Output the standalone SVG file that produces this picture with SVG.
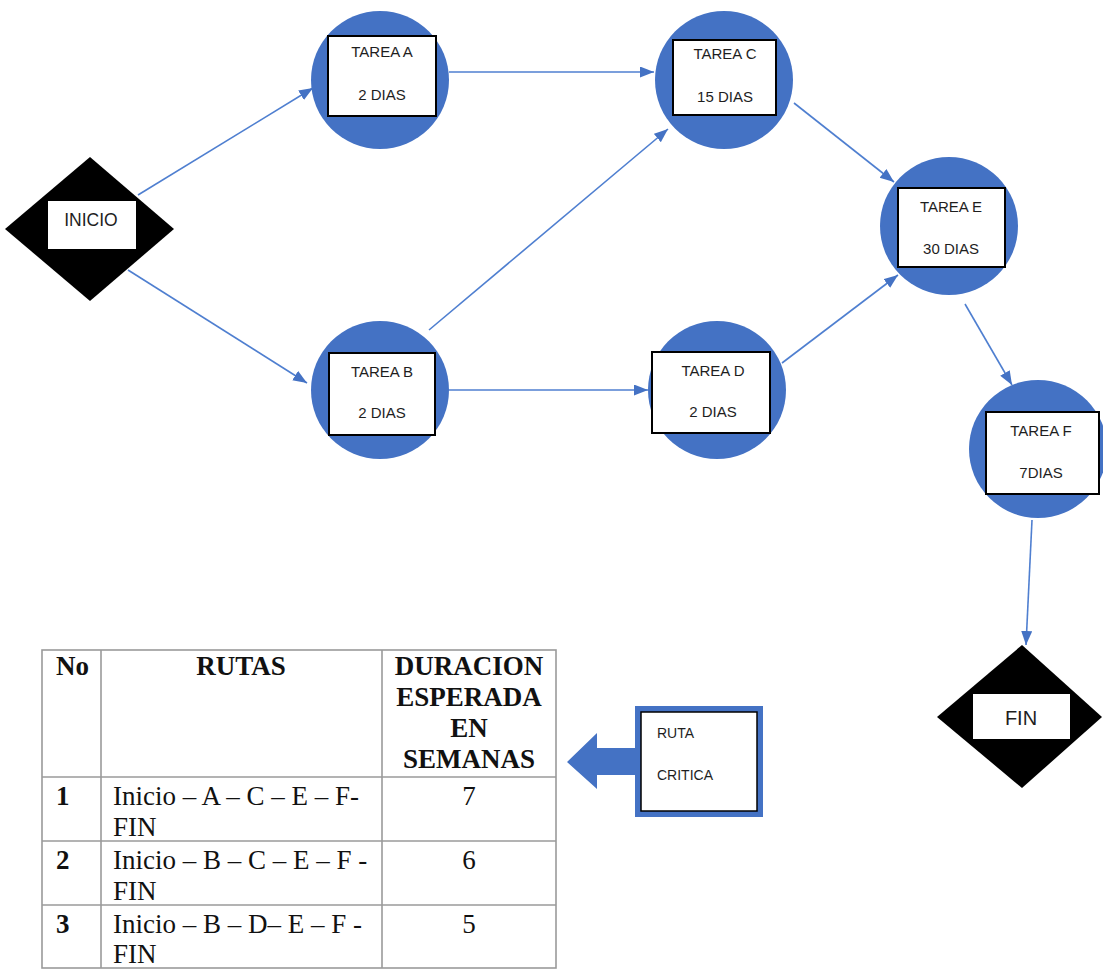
<svg xmlns="http://www.w3.org/2000/svg" width="1103" height="969" viewBox="0 0 1103 969">
  <style>
    .task { fill: #4472C4; }
    .label-box { fill: #ffffff; stroke: #000000; stroke-width: 2; }
    .node-text { font-family: "Liberation Sans", Arial, sans-serif; font-size: 15px; fill: #1e1e1e; text-anchor: middle; }
    .big { font-size: 17.5px; }
    .bigger { font-size: 20px; }
    .note { font-size: 14px; text-anchor: start; }
    .terminal { fill: #000000; }
    .edge { fill: none; stroke: #4F7FD0; stroke-width: 1.6; marker-end: url(#arrow); }
    .grid { fill: none; stroke: #9a9a9a; stroke-width: 1.6; }
    .th { font-family: "Liberation Serif", "Times New Roman", serif; font-size: 27px; font-weight: bold; fill: #111111; }
    .td { font-family: "Liberation Serif", "Times New Roman", serif; font-size: 27px; fill: #111111; }
    .mid { text-anchor: middle; }
  </style>
  <defs>
    <marker id="arrow" markerUnits="userSpaceOnUse" markerWidth="16" markerHeight="12" refX="14" refY="5.5" orient="auto">
      <path d="M0,0 L14,5.5 L0,11 Z" fill="#4472C4"/>
    </marker>
  </defs>

  <!-- connectors -->
  <g id="connectors">
    <line class="edge" x1="138" y1="195" x2="313" y2="88"/>
    <line class="edge" x1="128" y1="270" x2="307" y2="383"/>
    <line class="edge" x1="449" y1="72" x2="654" y2="72"/>
    <line class="edge" x1="429" y1="330" x2="668" y2="129"/>
    <line class="edge" x1="449" y1="390" x2="648" y2="390"/>
    <line class="edge" x1="794" y1="103" x2="894" y2="182"/>
    <line class="edge" x1="782" y1="363" x2="898" y2="275"/>
    <line class="edge" x1="965" y1="304" x2="1012" y2="385"/>
    <line class="edge" x1="1032" y1="520" x2="1026" y2="645"/>
  </g>

  <!-- start -->
  <g id="inicio">
    <polygon class="terminal" points="90,157 174,229 90,301 5,229"/>
    <rect x="48" y="201" width="88" height="48" fill="#ffffff"/>
    <text class="node-text big" x="91" y="226">INICIO</text>
  </g>

  <!-- tasks -->
  <g id="tarea-a">
    <circle class="task" cx="380" cy="80" r="69"/>
    <rect class="label-box" x="328" y="36" width="108" height="80"/>
    <text class="node-text" x="382" y="57">TAREA A</text>
    <text class="node-text" x="382" y="100">2 DIAS</text>
  </g>

  <g id="tarea-c">
    <circle class="task" cx="724" cy="80" r="69"/>
    <rect class="label-box" x="673" y="40" width="103" height="75"/>
    <text class="node-text" x="725" y="59">TAREA C</text>
    <text class="node-text" x="725" y="102">15 DIAS</text>
  </g>

  <g id="tarea-b">
    <circle class="task" cx="380" cy="390" r="69"/>
    <rect class="label-box" x="329" y="353" width="106" height="82"/>
    <text class="node-text" x="382" y="377">TAREA B</text>
    <text class="node-text" x="382" y="418">2 DIAS</text>
  </g>

  <g id="tarea-d">
    <circle class="task" cx="717" cy="390" r="69"/>
    <rect class="label-box" x="652" y="352" width="118" height="81"/>
    <text class="node-text" x="713" y="376">TAREA D</text>
    <text class="node-text" x="713" y="417">2 DIAS</text>
  </g>

  <g id="tarea-e">
    <circle class="task" cx="949" cy="226" r="69"/>
    <rect class="label-box" x="898" y="188" width="107" height="79"/>
    <text class="node-text" x="951" y="212">TAREA E</text>
    <text class="node-text" x="951" y="254">30 DIAS</text>
  </g>

  <g id="tarea-f">
    <circle class="task" cx="1038" cy="449" r="69"/>
    <rect class="label-box" x="986" y="412" width="113" height="82"/>
    <text class="node-text" x="1041" y="436">TAREA F</text>
    <text class="node-text" x="1041" y="478">7DIAS</text>
  </g>

  <!-- end -->
  <g id="fin">
    <polygon class="terminal" points="1022,645 1102,717 1022,788 937,717"/>
    <rect x="973" y="694" width="97" height="45" fill="#ffffff"/>
    <text class="node-text bigger" x="1021" y="725">FIN</text>
  </g>

  <!-- critical path callout -->
  <g id="ruta-critica">
    <path d="M567,762 L597,733 L597,748 L637,748 L637,775 L597,775 L597,789 Z" fill="#4472C4"/>
    <rect x="635" y="706" width="128" height="111" fill="#4472C4"/>
    <rect x="641" y="712" width="116" height="99" fill="#ffffff" stroke="#000000" stroke-width="1.5"/>
    <text class="node-text note" x="657" y="738">RUTA</text>
    <text class="node-text note" x="657" y="780">CRITICA</text>
  </g>

  <!-- routes table -->
  <g id="tabla-rutas">
    <rect class="grid" x="42" y="650" width="514" height="318"/>
    <line class="grid" x1="101" y1="650" x2="101" y2="968"/>
    <line class="grid" x1="382" y1="650" x2="382" y2="968"/>
    <line class="grid" x1="42" y1="777" x2="556" y2="777"/>
    <line class="grid" x1="42" y1="841" x2="556" y2="841"/>
    <line class="grid" x1="42" y1="905" x2="556" y2="905"/>

    <text class="th" x="56" y="675">No</text>
    <text class="th mid" x="241" y="675">RUTAS</text>
    <text class="th mid" x="469" y="675">DURACION</text>
    <text class="th mid" x="469" y="706">ESPERADA</text>
    <text class="th mid" x="469" y="737">EN</text>
    <text class="th mid" x="469" y="768">SEMANAS</text>

    <text class="th" x="56" y="805">1</text>
    <text class="td" x="113" y="805">Inicio – A – C – E – F-</text>
    <text class="td" x="113" y="836">FIN</text>
    <text class="td mid" x="469" y="805">7</text>

    <text class="th" x="56" y="869">2</text>
    <text class="td" x="113" y="869">Inicio – B – C – E – F -</text>
    <text class="td" x="113" y="900">FIN</text>
    <text class="td mid" x="469" y="869">6</text>

    <text class="th" x="56" y="933">3</text>
    <text class="td" x="113" y="933">Inicio – B – D– E – F -</text>
    <text class="td" x="113" y="963">FIN</text>
    <text class="td mid" x="469" y="933">5</text>
  </g>
</svg>
